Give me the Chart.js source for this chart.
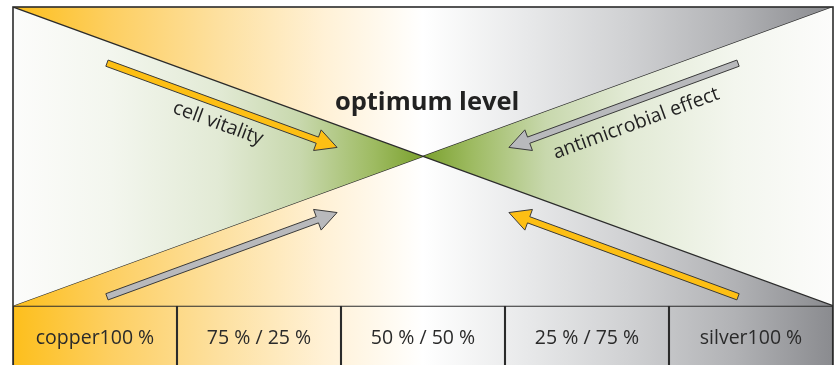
<!DOCTYPE html>
<html>
<head>
<meta charset="utf-8">
<script src="https://cdn.jsdelivr.net/npm/chart.js@4/dist/chart.umd.min.js"></script>
<style>
  html, body { margin: 0; padding: 0; background: #ffffff; overflow: hidden; }
  #wrap { width: 835px; height: 365px; overflow: hidden; }
</style>
</head>
<body>
<div id="wrap"><canvas id="c" width="835" height="367"></canvas></div>
<script>
// Alloy compositions along the bottom row (copper / silver)
const categories = ['copper100 %', '75 % / 25 %', '50 % / 50 %', '25 % / 75 %', 'silver100 %'];
// Position of each composition cell on the x axis (cell centres)
const cellCenters = [0.5, 1.5, 2.5, 3.5, 4.5];
// Relative level of each effect from pure copper (x = 0) to pure silver (x = 5)
const alloyAxis = [0, 5];
const cellVitality = [100, 0];
const antimicrobialEffect = [0, 100];
// Band that holds the composition cells
const cellBand = [-20.5, 0];

const INK = '#2b2b2b';

function mixGradient(ctx, area) {
  const g = ctx.createLinearGradient(area.left, 0, area.right, 0);
  g.addColorStop(0.00, '#fdbf1c');
  g.addColorStop(0.12, '#fdcf62');
  g.addColorStop(0.25, '#fde09f');
  g.addColorStop(0.38, '#fff1d6');
  g.addColorStop(0.50, '#ffffff');
  g.addColorStop(0.62, '#e9eaeb');
  g.addColorStop(0.75, '#d0d1d3');
  g.addColorStop(0.88, '#b1b2b5');
  g.addColorStop(1.00, '#8a8b8f');
  return g;
}
function greenGradient(ctx, area) {
  const g = ctx.createLinearGradient(area.left, 0, area.right, 0);
  g.addColorStop(0.00, '#fcfcfb');
  g.addColorStop(0.12, '#f3f6ee');
  g.addColorStop(0.25, '#e2ead5');
  g.addColorStop(0.35, '#c8d8ad');
  g.addColorStop(0.44, '#9ebb62');
  g.addColorStop(0.50, '#7ba12e');
  g.addColorStop(0.56, '#9ebb62');
  g.addColorStop(0.65, '#c8d8ad');
  g.addColorStop(0.75, '#e2ead5');
  g.addColorStop(0.88, '#f3f6ee');
  g.addColorStop(1.00, '#fcfcfb');
  return g;
}

const arrows = [
  { from: [0.573, 81.2], to: [1.976, 53.0], color: '#fdbf14' },
  { from: [4.421, 81.2], to: [3.024, 53.0], color: '#b8b9bc' },
  { from: [0.573, 3.0],  to: [1.976, 31.2], color: '#b8b9bc' },
  { from: [4.421, 3.0],  to: [3.024, 31.2], color: '#fdbf14' }
];

const captions = [
  { text: 'optimum level', at: [2.525, 65.4], angle: 0, font: 'bold 25.5px "Open Sans", sans-serif' },
  { text: 'cell vitality', at: [1.25, 61.0], angle: 20.1, font: '19.5px "Open Sans", sans-serif' },
  { text: 'antimicrobial effect', at: [3.8, 61.0], angle: -20.1, font: '19.5px "Open Sans", sans-serif' }
];

function drawArrow(ctx, x1, y1, x2, y2, color) {
  const dx = x2 - x1, dy = y2 - y1;
  const len = Math.hypot(dx, dy);
  const ux = dx / len, uy = dy / len;
  const nx = -uy, ny = ux;
  const sw = 3.3, hl = 21, hw = 11;
  const bx = x2 - ux * hl, by = y2 - uy * hl;
  ctx.save();
  ctx.beginPath();
  ctx.moveTo(x1 + nx * sw, y1 + ny * sw);
  ctx.lineTo(bx + nx * sw, by + ny * sw);
  ctx.lineTo(bx + nx * hw, by + ny * hw);
  ctx.lineTo(x2, y2);
  ctx.lineTo(bx - nx * hw, by - ny * hw);
  ctx.lineTo(bx - nx * sw, by - ny * sw);
  ctx.lineTo(x1 - nx * sw, y1 - ny * sw);
  ctx.closePath();
  ctx.fillStyle = color;
  ctx.fill();
  ctx.lineWidth = 1;
  ctx.lineJoin = 'miter';
  ctx.strokeStyle = '#3a3a3a';
  ctx.stroke();
  ctx.restore();
}

const diagramPlugin = {
  id: 'diagram',
  beforeDatasetsDraw(chart) {
    const { ctx, chartArea: a } = chart;
    ctx.save();
    ctx.fillStyle = mixGradient(ctx, a);
    ctx.fillRect(a.left, a.top, a.right - a.left, a.bottom - a.top);
    ctx.restore();
  },
  afterDatasetsDraw(chart) {
    const { ctx, chartArea: a, scales: { x, y } } = chart;
    // arrows
    arrows.forEach(ar => {
      drawArrow(ctx,
        x.getPixelForValue(ar.from[0]), y.getPixelForValue(ar.from[1]),
        x.getPixelForValue(ar.to[0]), y.getPixelForValue(ar.to[1]), ar.color);
    });
    // captions
    captions.forEach(c => {
      ctx.save();
      ctx.translate(x.getPixelForValue(c.at[0]), y.getPixelForValue(c.at[1]));
      ctx.rotate(c.angle * Math.PI / 180);
      ctx.font = c.font;
      ctx.fillStyle = '#222222';
      ctx.textAlign = 'center';
      ctx.textBaseline = c.angle === 0 ? 'alphabetic' : 'middle';
      ctx.fillText(c.text, 0, 0);
      ctx.restore();
    });
    // composition labels
    ctx.save();
    ctx.font = '19.5px "Open Sans", sans-serif';
    ctx.fillStyle = '#2a2a2a';
    ctx.textAlign = 'center';
    ctx.textBaseline = 'middle';
    categories.forEach((lab, i) => {
      ctx.fillText(lab, x.getPixelForValue(cellCenters[i]), y.getPixelForValue(-10.9));
    });
    ctx.restore();
    // frame
    ctx.save();
    ctx.strokeStyle = INK;
    ctx.lineWidth = 1.6;
    ctx.strokeRect(a.left, a.top, a.right - a.left, a.bottom - a.top);
    ctx.restore();
  }
};

new Chart(document.getElementById('c'), {
  type: 'line',
  data: {
    datasets: [
      {
        label: 'cell vitality',
        data: alloyAxis.map((v, i) => ({ x: v, y: cellVitality[i] })),
        borderColor: INK,
        borderWidth: 1.3,
        pointRadius: 0,
        tension: 0,
        fill: '+1',
        backgroundColor: (c) => c.chart.chartArea ? greenGradient(c.chart.ctx, c.chart.chartArea) : '#7ba12e'
      },
      {
        label: 'antimicrobial effect',
        data: alloyAxis.map((v, i) => ({ x: v, y: antimicrobialEffect[i] })),
        borderColor: INK,
        borderWidth: 1.3,
        pointRadius: 0,
        tension: 0,
        fill: false
      },
      {
        type: 'bar',
        label: 'composition',
        data: cellCenters.map(cx => ({ x: cx, y: cellBand })),
        backgroundColor: (c) => c.chart.chartArea ? mixGradient(c.chart.ctx, c.chart.chartArea) : '#ffffff',
        borderColor: INK,
        borderWidth: 1.4,
        borderSkipped: false,
        categoryPercentage: 1,
        barPercentage: 1
      }
    ]
  },
  options: {
    responsive: false,
    devicePixelRatio: 1,
    animation: false,
    events: [],
    layout: { padding: { left: 13, top: 7, right: 2, bottom: 0 } },
    plugins: { legend: { display: false }, tooltip: { enabled: false }, filler: { propagate: false } },
    scales: {
      x: { type: 'linear', min: 0, max: 5, offset: false, display: false, ticks: { stepSize: 1 }, grid: { offset: false } },
      y: { type: 'linear', min: -20.5, max: 100, display: false }
    }
  },
  plugins: [diagramPlugin]
});
</script>
</body>
</html>
